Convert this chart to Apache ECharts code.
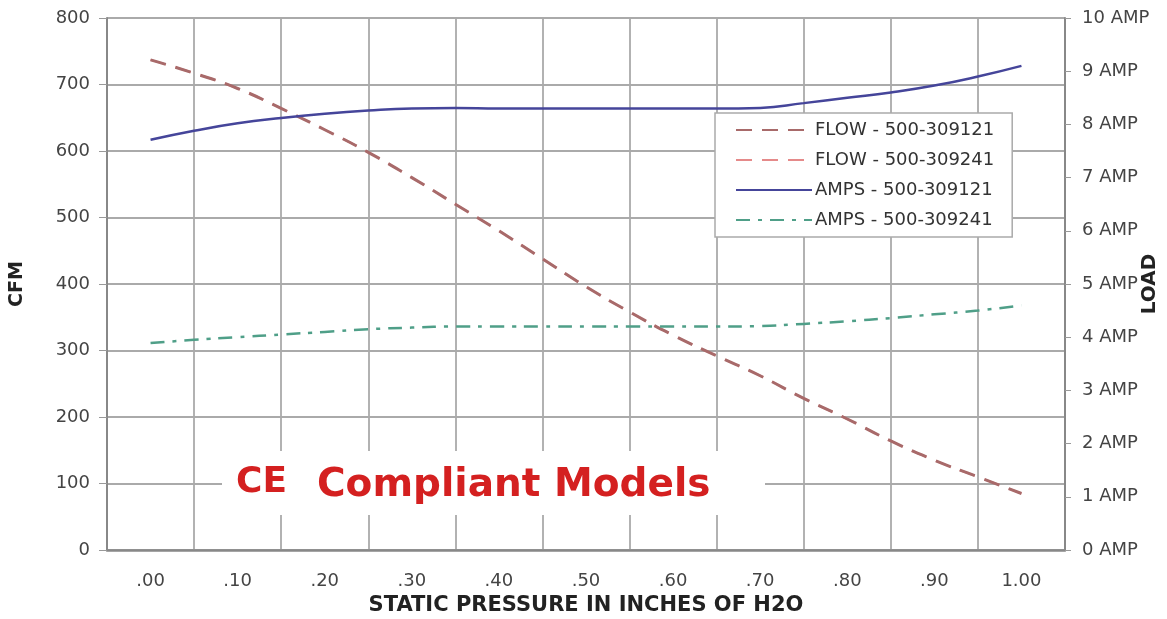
<!DOCTYPE html>
<html>
<head>
<meta charset="utf-8">
<script src="https://cdn.jsdelivr.net/npm/echarts@6/dist/echarts.min.js"></script>
<style>html,body{margin:0;padding:0;background:#fff}#c{width:1167px;height:619px}</style>
</head>
<body>
<div id="c"></div>
<script>
var categories = ['.00', '.10', '.20', '.30', '.40', '.50', '.60', '.70', '.80', '.90', '1.00'];
var pressure = [0, 0.05, 0.10, 0.15, 0.20, 0.25, 0.30, 0.35, 0.40, 0.45, 0.50, 0.55, 0.60, 0.65, 0.70, 0.75, 0.80, 0.85, 0.90, 0.95, 1.00];
var flow121 = [737, 717, 694, 664, 632, 598, 560, 520, 480, 438, 396, 358, 323, 292, 262, 228, 197, 164, 135, 110, 85];
var flow241 = [737, 717, 694, 664, 632, 598, 560, 520, 480, 438, 396, 358, 323, 292, 262, 228, 197, 164, 135, 110, 85];
var amps121 = [7.71, 7.88, 8.02, 8.12, 8.20, 8.26, 8.30, 8.31, 8.30, 8.30, 8.30, 8.30, 8.30, 8.30, 8.31, 8.40, 8.50, 8.60, 8.73, 8.90, 9.10];
var amps241 = [3.89, 3.95, 4.00, 4.05, 4.10, 4.15, 4.18, 4.20, 4.20, 4.20, 4.20, 4.20, 4.20, 4.20, 4.21, 4.25, 4.30, 4.36, 4.43, 4.50, 4.60];
var cfmTicks = [0, 800, 100];
var ampTicks = [0, 10, 1];

function pairs(ys) { return pressure.map(function (x, i) { return [x, ys[i]]; }); }

var font = '"DejaVu Sans", "Liberation Sans", Arial, sans-serif';
var chart = echarts.init(document.getElementById('c'));
chart.setOption({
  animation: false,
  backgroundColor: '#fff',
  grid: { left: 107, right: 102, top: 18, bottom: 69, containLabel: false, outerBoundsMode: 'none' },
  legend: {
    orient: 'vertical', left: 715, top: 113,
    padding: [8, 18, 8, 20], itemGap: 12, itemWidth: 76, itemHeight: 18,
    backgroundColor: '#fff', borderColor: '#aaa', borderWidth: 1.5,
    itemStyle: { opacity: 0 },
    textStyle: { fontFamily: font, fontSize: 18, color: '#333', padding: [0, 0, 0, -2] },
    data: ['FLOW - 500-309121', 'FLOW - 500-309241', 'AMPS - 500-309121', 'AMPS - 500-309241']
  },
  xAxis: [{
    type: 'category', data: categories, boundaryGap: true, position: 'bottom',
    name: 'STATIC PRESSURE IN INCHES OF H2O', nameLocation: 'middle', nameGap: 45, nameMoveOverlap: false,
    nameTextStyle: { fontFamily: font, fontSize: 21, fontWeight: 'bold', color: '#222' },
    axisLine: { lineStyle: { color: '#888', width: 2.5 } },
    axisTick: { show: false },
    axisLabel: { fontFamily: font, fontSize: 18, color: '#444', margin: 22 },
    splitLine: { show: true, lineStyle: { color: '#aaa', width: 1.8 } }
  }, {
    type: 'value', min: -0.05, max: 1.05, show: false
  }],
  yAxis: [{
    type: 'value', min: cfmTicks[0], max: cfmTicks[1], interval: cfmTicks[2], position: 'left',
    name: 'CFM', nameLocation: 'middle', nameGap: 80, nameRotate: 90, nameMoveOverlap: false,
    nameTextStyle: { fontFamily: font, fontSize: 19, fontWeight: 'bold', color: '#222' },
    axisLine: { show: true, onZero: false, lineStyle: { color: '#888', width: 2 } },
    axisTick: { show: true, length: 8, lineStyle: { color: '#999' } },
    axisLabel: { fontFamily: font, fontSize: 18, color: '#444', margin: 17 },
    splitLine: { show: true, lineStyle: { color: '#aaa', width: 1.8 } }
  }, {
    type: 'value', min: ampTicks[0], max: ampTicks[1], interval: ampTicks[2], position: 'right',
    name: 'LOAD', nameLocation: 'middle', nameGap: 75, nameRotate: 90, nameMoveOverlap: false,
    nameTextStyle: { fontFamily: font, fontSize: 20, fontWeight: 'bold', color: '#222' },
    axisLine: { show: true, onZero: false, lineStyle: { color: '#888', width: 2 } },
    axisTick: { show: true, length: 6, lineStyle: { color: '#999' } },
    axisLabel: { fontFamily: font, fontSize: 18, color: '#444', margin: 17, formatter: '{value} AMP' },
    splitLine: { show: false }
  }],
  graphic: [{
    type: 'rect', shape: { x: 222, y: 451, width: 543, height: 64 }, style: { fill: '#fff' }, z: 5
  }, {
    type: 'text', left: 236, top: 465, z: 6,
    style: { text: 'CE', fontFamily: font, fontSize: 36, fontWeight: 'bold', fill: '#d42020' }
  }, {
    type: 'text', left: 317, top: 466, z: 6,
    style: { text: 'Compliant Models', fontFamily: font, fontSize: 39, fontWeight: 'bold', fill: '#d42020' }
  }],
  series: [{
    name: 'FLOW - 500-309121', type: 'line', xAxisIndex: 1, yAxisIndex: 0, smooth: true, symbol: 'none',
    data: pairs(flow121), lineStyle: { color: '#a86a6a', width: 3, type: [16, 10] }, itemStyle: { color: '#a86a6a' }, z: 3
  }, {
    name: 'FLOW - 500-309241', type: 'line', xAxisIndex: 1, yAxisIndex: 0, smooth: true, symbol: 'none',
    data: pairs(flow241), lineStyle: { color: '#e58a8a', width: 2, type: [16, 10] }, itemStyle: { color: '#e58a8a' }, z: 2
  }, {
    name: 'AMPS - 500-309121', type: 'line', xAxisIndex: 1, yAxisIndex: 1, smooth: true, symbol: 'none',
    data: pairs(amps121), lineStyle: { color: '#45459a', width: 2.5, type: 'solid' }, itemStyle: { color: '#45459a' }, z: 3
  }, {
    name: 'AMPS - 500-309241', type: 'line', xAxisIndex: 1, yAxisIndex: 1, smooth: true, symbol: 'none',
    data: pairs(amps241), lineStyle: { color: '#4f9f88', width: 2.5, type: [14, 8, 4, 8] }, itemStyle: { color: '#4f9f88' }, z: 3
  }]
});
</script>
</body>
</html>
